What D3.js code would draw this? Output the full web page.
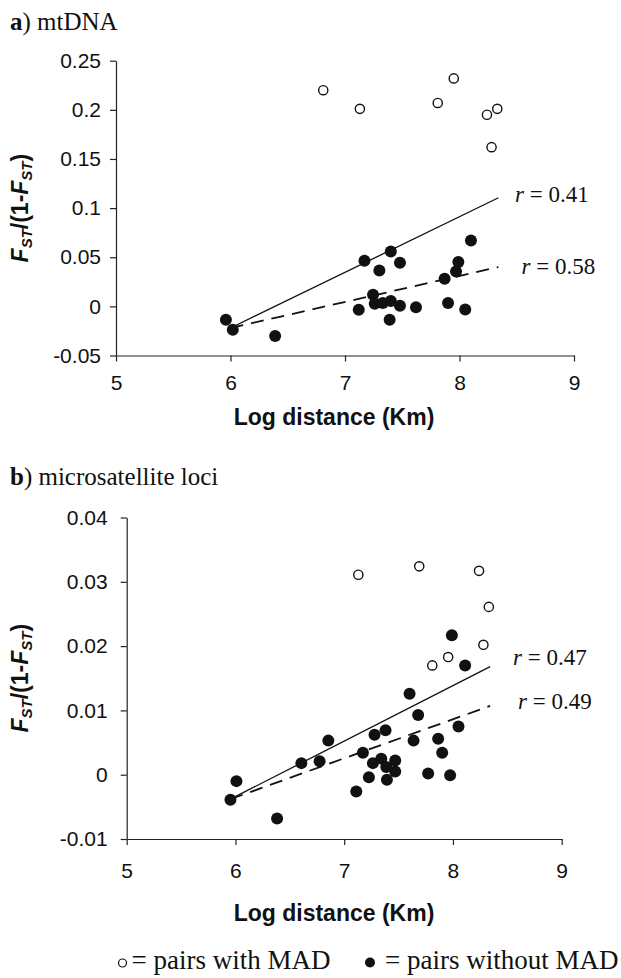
<!DOCTYPE html>
<html>
<head>
<meta charset="utf-8">
<script src="https://cdn.jsdelivr.net/npm/d3@7"></script>
<style>
  html, body { margin: 0; padding: 0; background: #fff; }
  svg { display: block; }
</style>
</head>
<body>
<svg id="chart" width="621" height="978"></svg>
<script>
// ---------- data ----------
const xTicks = [5, 6, 7, 8, 9];
const xTickLabels = ["5", "6", "7", "8", "9"];

// panel a: mtDNA
const aYTicks = [0.25, 0.2, 0.15, 0.1, 0.05, 0, -0.05];
const aYTickLabels = ["0.25", "0.2", "0.15", "0.1", "0.05", "0", "-0.05"];
const aOpenX = [6.81, 7.13, 7.81, 7.95, 8.24, 8.33, 8.28];
const aOpenY = [0.220, 0.201, 0.207, 0.232, 0.195, 0.201, 0.162];
const aFilledX = [5.96, 6.02, 6.39, 7.17, 7.40, 7.48, 7.30, 7.245, 7.12, 7.26, 7.33, 7.40, 7.48, 7.39, 7.62, 7.87, 7.97, 7.99, 7.90, 8.05, 8.10];
const aFilledY = [-0.0136, -0.0237, -0.0302, 0.0464, 0.0559, 0.0444, 0.0366, 0.0119, -0.0034, 0.0027, 0.0034, 0.0054, 0.0007, -0.0136, -0.0010, 0.0281, 0.0356, 0.0451, 0.0034, -0.0031, 0.0671];
const aSolidX = [6.0, 8.34];
const aSolidY = [-0.022, 0.1105];
const aDashX = [6.0, 8.34];
const aDashY = [-0.022, 0.040];
const aLabels = ["r = 0.41", "r = 0.58"];

// panel b: microsatellite loci
const bYTicks = [0.04, 0.03, 0.02, 0.01, 0, -0.01];
const bYTickLabels = ["0.04", "0.03", "0.02", "0.01", "0", "-0.01"];
const bOpenX = [7.13, 7.69, 8.24, 8.33, 8.28, 7.956, 7.81];
const bOpenY = [0.0311, 0.0324, 0.0317, 0.0261, 0.0202, 0.0183, 0.0170];
const bFilledX = [5.954, 6.009, 6.383, 6.606, 6.774, 6.854, 7.111, 7.172, 7.227, 7.264, 7.279, 7.341, 7.380, 7.387, 7.393, 7.469, 7.469, 7.601, 7.638, 7.680, 7.772, 7.864, 7.901, 7.974, 8.051, 8.112, 7.99];
const bFilledY = [-0.0039, -0.0010, -0.0068, 0.0018, 0.0021, 0.0053, -0.0026, 0.0034, -0.0004, 0.0018, 0.0062, 0.0025, 0.0069, 0.0012, -0.0008, 0.0022, 0.0005, 0.0126, 0.0053, 0.0093, 0.0002, 0.0056, 0.0034, -0.0001, 0.0075, 0.0170, 0.0217];
const bSolidX = [5.954, 8.342];
const bSolidY = [-0.0038, 0.0168];
const bDashX = [5.954, 8.342];
const bDashY = [-0.0038, 0.0107];
const bLabels = ["r = 0.47", "r = 0.49"];

const panelTitles = [["a", ") mtDNA"], ["b", ") microsatellite loci"]];
const xTitle = "Log distance (Km)";
const legendItems = ["= pairs with MAD", "= pairs without MAD"];

// ---------- drawing ----------
const svg = d3.select("#chart");
const SANS = "'Liberation Sans', Arial, Helvetica, sans-serif";
const SERIF = "'Liberation Serif', 'Times New Roman', Times, serif";

function panel(cfg) {
  const x = d3.scaleLinear().domain([5, 9]).range(cfg.xRange);
  const y = d3.scaleLinear().domain(cfg.yDomain).range(cfg.yRange);
  const g = svg.append("g");

  // axes
  const yAxis = d3.axisLeft(y).tickValues(cfg.yTicks)
    .tickFormat((d, i) => cfg.yTickLabels[i]).tickSize(6).tickSizeOuter(0).tickPadding(cfg.yPad);
  const xAxis = d3.axisBottom(x).tickValues(xTicks)
    .tickFormat((d, i) => xTickLabels[i]).tickSize(6).tickSizeOuter(0).tickPadding(cfg.xPad);

  const gy = g.append("g").attr("transform", `translate(${cfg.xRange[0]},0)`).call(yAxis);
  const gx = g.append("g").attr("transform", `translate(0,${cfg.yRange[0]})`).call(xAxis);
  [gx, gy].forEach(a => {
    a.select(".domain").attr("stroke", "#222").attr("stroke-width", 1.2);
    a.selectAll(".tick line").attr("stroke", "#222").attr("stroke-width", 1.2);
    a.selectAll(".tick text").attr("fill", "#111").attr("font-family", SANS).attr("font-size", 21);
  });

  // regression lines
  const line = d3.line().x(d => x(d[0])).y(d => y(d[1]));
  g.append("path").datum(d3.zip(cfg.solidX, cfg.solidY)).attr("d", line)
    .attr("fill", "none").attr("stroke", "#111").attr("stroke-width", 1.3);
  g.append("path").datum(d3.zip(cfg.dashX, cfg.dashY)).attr("d", line)
    .attr("fill", "none").attr("stroke", "#111").attr("stroke-width", 1.8).attr("stroke-dasharray", "13,8");

  // points
  g.append("g").selectAll("circle").data(d3.zip(cfg.openX, cfg.openY)).join("circle")
    .attr("cx", d => x(d[0])).attr("cy", d => y(d[1])).attr("r", 4.6)
    .attr("fill", "#fff").attr("stroke", "#111").attr("stroke-width", 1.4);
  g.append("g").selectAll("circle").data(d3.zip(cfg.filledX, cfg.filledY)).join("circle")
    .attr("cx", d => x(d[0])).attr("cy", d => y(d[1])).attr("r", 6)
    .attr("fill", "#111");

  // r labels
  cfg.rLabels.forEach((t, i) => {
    const tx = g.append("text").attr("x", cfg.rPos[i][0]).attr("y", cfg.rPos[i][1])
      .attr("font-family", SERIF).attr("font-size", 23).attr("fill", "#111");
    tx.append("tspan").attr("font-style", "italic").text(t.slice(0, 1));
    tx.append("tspan").text(t.slice(1));
  });

  // panel title
  const pt = svg.append("text").attr("x", 10).attr("y", cfg.titleY)
    .attr("font-family", SERIF).attr("font-size", 25).attr("fill", "#111");
  pt.append("tspan").attr("font-weight", "bold").text(cfg.title[0]);
  pt.append("tspan").text(cfg.title[1]);

  // x title
  svg.append("text").attr("x", cfg.xTitleX).attr("y", cfg.xTitleY)
    .attr("text-anchor", "middle").attr("font-family", SANS).attr("font-weight", "bold")
    .attr("font-size", 23).attr("fill", "#111").text(xTitle);

  // y title
  const cy = (cfg.yRange[0] + cfg.yRange[1]) / 2;
  const yt = svg.append("text").attr("transform", `translate(${cfg.yTitleX},${cy}) rotate(-90)`)
    .attr("text-anchor", "middle").attr("font-family", SANS).attr("font-weight", "bold")
    .attr("font-size", 23).attr("fill", "#111");
  yt.append("tspan").attr("font-style", "italic").text("F");
  yt.append("tspan").attr("font-style", "italic").attr("font-size", 15).attr("dy", 4).text("ST");
  yt.append("tspan").attr("dy", -4).text("/(1-");
  yt.append("tspan").attr("font-style", "italic").text("F");
  yt.append("tspan").attr("font-style", "italic").attr("font-size", 15).attr("dy", 4).text("ST");
  yt.append("tspan").attr("dy", -4).text(")");
}

panel({
  xRange: [116, 574], yDomain: [-0.05, 0.25], yRange: [355.5, 60.7],
  yTicks: aYTicks, yTickLabels: aYTickLabels, yPad: 9, xPad: 14,
  openX: aOpenX, openY: aOpenY, filledX: aFilledX, filledY: aFilledY,
  solidX: aSolidX, solidY: aSolidY, dashX: aDashX, dashY: aDashY,
  rLabels: aLabels, rPos: [[515, 201.5], [521.5, 273.5]],
  title: panelTitles[0], titleY: 30, xTitleX: 334, xTitleY: 425, yTitleX: 28
});

panel({
  xRange: [126.7, 561.7], yDomain: [-0.01, 0.04], yRange: [839, 517.5],
  yTicks: bYTicks, yTickLabels: bYTickLabels, yPad: 13, xPad: 18,
  openX: bOpenX, openY: bOpenY, filledX: bFilledX, filledY: bFilledY,
  solidX: bSolidX, solidY: bSolidY, dashX: bDashX, dashY: bDashY,
  rLabels: bLabels, rPos: [[513, 665], [518, 708.5]],
  title: panelTitles[1], titleY: 485, xTitleX: 334, xTitleY: 920.5, yTitleX: 28
});

// legend
const leg = svg.append("g");
leg.append("circle").attr("cx", 122.5).attr("cy", 963).attr("r", 4)
  .attr("fill", "#fff").attr("stroke", "#111").attr("stroke-width", 1.2);
leg.append("text").attr("x", 131.5).attr("y", 969).attr("font-family", SERIF)
  .attr("font-size", 27).attr("fill", "#111").text(legendItems[0]);
leg.append("circle").attr("cx", 370).attr("cy", 962.5).attr("r", 5).attr("fill", "#111");
leg.append("text").attr("x", 385).attr("y", 969).attr("font-family", SERIF)
  .attr("font-size", 27).attr("fill", "#111").text(legendItems[1]);
</script>
</body>
</html>
